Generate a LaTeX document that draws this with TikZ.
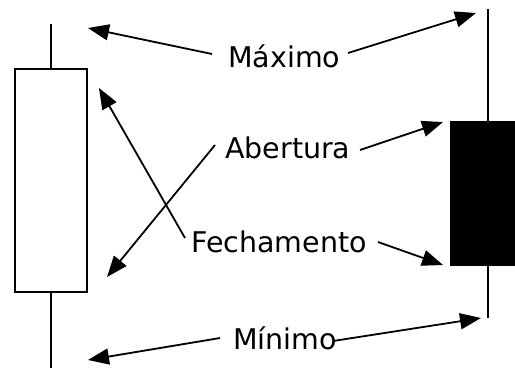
\documentclass[tikz,border=0pt]{standalone}
\usepackage{fontspec}
\setmainfont{DejaVu Sans}
\usetikzlibrary{arrows.meta}
\begin{document}
\begin{tikzpicture}[x=1bp,y=-1bp,
  lbl/.style={anchor=base west,inner sep=0pt,font=\fontsize{28.5bp}{30bp}\selectfont},
  arr/.style={line width=1.8bp,-{Triangle[length=21bp,width=16bp]}},
  wick/.style={line width=1.8bp}]
\useasboundingbox (0,0) rectangle (515,367);
% left (hollow) candle
\node[draw,line width=1.8bp,minimum width=72bp,minimum height=223bp,inner sep=0pt] (lbox) at (51,180.5) {};
\coordinate (ltop) at (51,24);
\coordinate (lbot) at (51,370);
\draw[wick] (lbox.north) -- (ltop);
\draw[wick] (lbox.south) -- (lbot);
% right (filled) candle
\node[fill=black,minimum width=76bp,minimum height=145bp,inner sep=0pt] (rbox) at (488,193.5) {};
\coordinate (rtop) at (488,9);
\coordinate (rbot) at (488,318);
\draw[wick] (rbox.north) -- (rtop);
\draw[wick] (rbox.south) -- (rbot);
% labels
\node[lbl] (max) at (228,67) {Máximo};
\node[lbl] (abe) at (225,158) {Abertura};
\node[lbl] (fec) at (191,252) {Fechamento};
\node[lbl] (min) at (233,349) {Mínimo};
% arrow endpoints
\coordinate (maxL) at (212,54);
\coordinate (maxR) at (348,53);
\coordinate (abeL) at (215,145);
\coordinate (abeR) at (360,150);
\coordinate (fecL) at (185,238);
\coordinate (fecR) at (378,242);
\coordinate (minL) at (220,338);
\coordinate (minR) at (333,341);
\coordinate (tMaxL) at (88,28);
\coordinate (tMaxR) at (476,13);
\coordinate (tAbeL) at (107,277);
\coordinate (tAbeR) at (443,122);
\coordinate (tFecL) at (99,88);
\coordinate (tFecR) at (443,265);
\coordinate (tMinL) at (88,360);
\coordinate (tMinR) at (481,318);
\draw[arr] (maxL) -- (tMaxL);
\draw[arr] (maxR) -- (tMaxR);
\draw[arr] (abeL) -- (tAbeL);
\draw[arr] (abeR) -- (tAbeR);
\draw[arr] (fecL) -- (tFecL);
\draw[arr] (fecR) -- (tFecR);
\draw[arr] (minL) -- (tMinL);
\draw[arr] (minR) -- (tMinR);
\end{tikzpicture}
\end{document}
